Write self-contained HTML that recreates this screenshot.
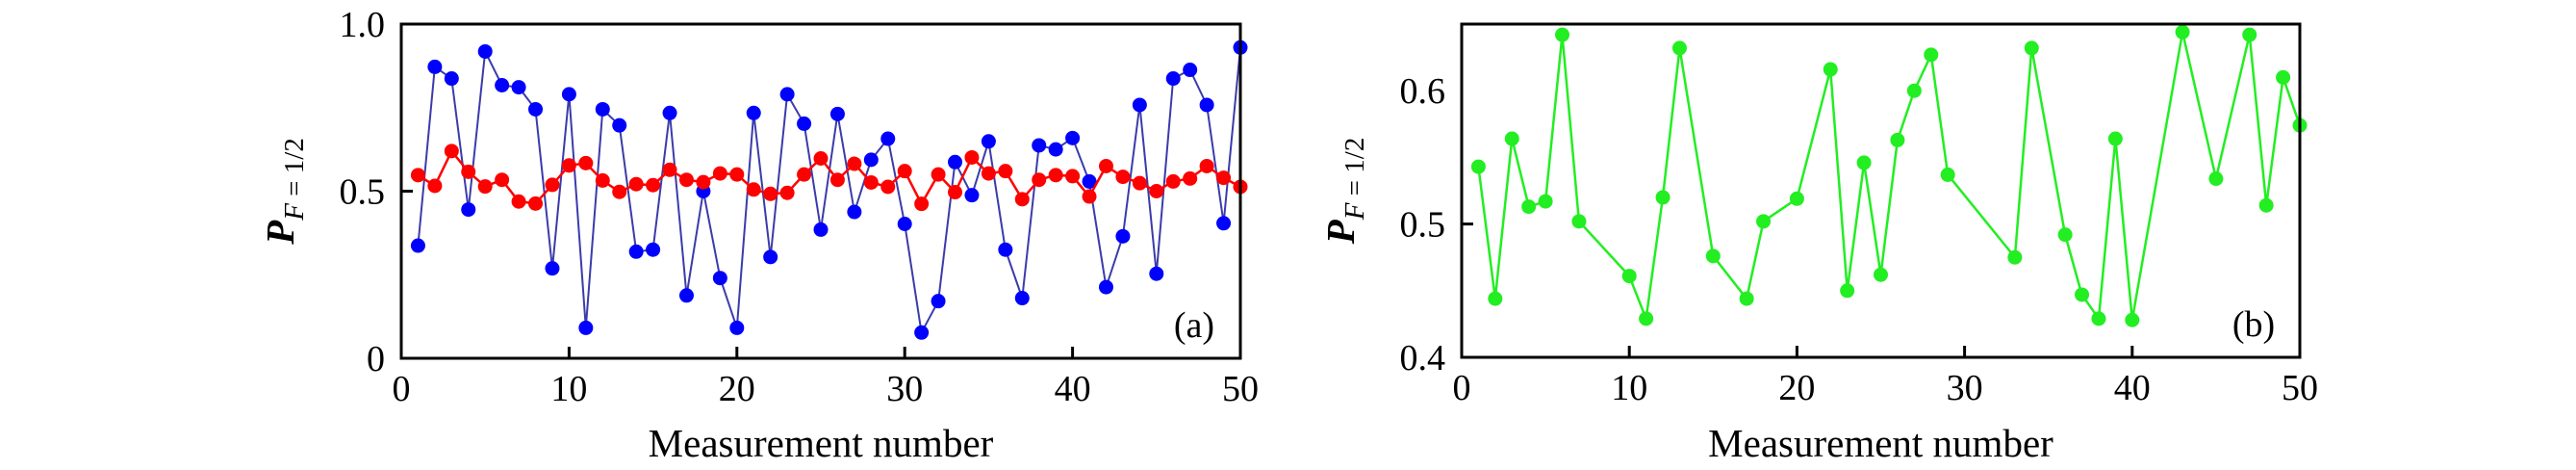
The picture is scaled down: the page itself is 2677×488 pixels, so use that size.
<!DOCTYPE html>
<html><head><meta charset="utf-8"><style>
html,body{margin:0;padding:0;background:#fff;}
svg{display:block;font-family:"Liberation Serif",serif;}
</style></head><body>
<svg id="fig" width="2677" height="488" viewBox="0 0 2677 488" xmlns="http://www.w3.org/2000/svg"></svg>
<script>
const xTicks = [0,10,20,30,40,50];
const yTicksA = [0,0.5,1.0];
const yTickLabelsA = ["0","0.5","1.0"];
const yTicksB = [0.4,0.5,0.6];
const yTickLabelsB = ["0.4","0.5","0.6"];
const blueX = Array.from({length:50},(_,i)=>i+1);
const blueY = [.337,.872,.837,.445,.918,.817,.811,.745,.269,.790,.091,.745,.697,.319,.325,.734,.188,.500,.240,.091,.734,.303,.790,.702,.385,.731,.438,.594,.657,.402,.077,.171,.587,.488,.649,.325,.180,.637,.625,.659,.529,.213,.365,.758,.253,.837,.863,.758,.404,.930];
const redX = Array.from({length:50},(_,i)=>i+1);
const redY = [.548,.516,.620,.558,.514,.534,.469,.463,.519,.577,.584,.532,.498,.521,.518,.564,.534,.527,.553,.550,.505,.492,.495,.550,.598,.534,.582,.526,.513,.560,.462,.550,.497,.601,.553,.560,.476,.534,.548,.545,.484,.575,.543,.524,.500,.529,.538,.575,.540,.513];
const greenX = [1,2,3,4,5,6,7,10,11,12,13,15,17,18,20,22,23,24,25,26,27,28,29,33,34,36,37,38,39,40,43,45,47,48,49,50];
const greenY = [.543,.444,.564,.513,.517,.642,.502,.461,.429,.520,.632,.476,.444,.502,.519,.616,.450,.546,.462,.563,.600,.627,.537,.475,.632,.492,.447,.429,.564,.428,.644,.534,.642,.514,.610,.574];

const NS="http://www.w3.org/2000/svg";
const svg=document.getElementById('fig');
function mk(tag,attrs,parent){const e=document.createElementNS(NS,tag);for(const k in attrs)e.setAttribute(k,attrs[k]);(parent||svg).appendChild(e);return e;}

function panel(p){
  const g=mk('g',{});
  
  
  const sx=v=>p.l+(v-0)/(50-0)*(p.r-p.l);
  const sy=v=>p.b-(v-p.y0)/(p.y1-p.y0)*(p.b-p.t);
  p.series.forEach(s=>{
    const pts=s.x.map((x,i)=>sx(x).toFixed(1)+','+sy(s.y[i]).toFixed(1)).join(' ');
    const pl=mk('polyline',{points:pts,fill:'none',stroke:s.line,'stroke-width':s.lw},g);
    
    
    s.x.forEach((x,i)=>{
      const c=mk('circle',{cx:sx(x),cy:sy(s.y[i]),r:7.5,fill:s.fill},g);
      
      
    });
  });
  const fr=mk('rect',{x:p.l,y:p.t,width:p.r-p.l,height:p.b-p.t,fill:'none',stroke:'#000','stroke-width':3},g);
  
  
  xTicks.forEach(v=>{
    const X=sx(v);
    if(v>0&&v<50){mk('line',{x1:X,x2:X,y1:p.b,y2:p.b-12,stroke:'#000','stroke-width':3},g);}
    const t=mk('text',{x:X,y:p.b+44,'text-anchor':'middle','font-size':38},g);
    t.textContent=v;
    
    
  });
  p.yt.forEach((v,i)=>{
    const Y=sy(v);
    if(i>0&&i<p.yt.length-1){mk('line',{x1:p.l,x2:p.l+12,y1:Y,y2:Y,stroke:'#000','stroke-width':3},g);}
    const t=mk('text',{x:p.l-17,y:Y+13,'text-anchor':'end','font-size':38},g);
    t.textContent=p.yl[i];
    
    
  });
  const xt=mk('text',{x:(p.l+p.r)/2,y:474,'text-anchor':'middle','font-size':41},g);
  xt.textContent='Measurement number';
  
  
  const yt=mk('text',{x:0,y:0,transform:`translate(${p.l-112},${(p.t+p.b)/2}) rotate(-90)`,'text-anchor':'middle','font-size':41},g);
  yt.innerHTML='<tspan font-style="italic" font-weight="bold">P</tspan><tspan font-size="29" dy="10"><tspan font-style="italic">F</tspan> = 1/2</tspan>';
  
  
  const pl=mk('text',{x:p.r-48,y:p.b-22,'text-anchor':'middle','font-size':38},g);
  pl.textContent=p.label;
  
  
}
panel({name:'panel-a',l:417,r:1289,t:25,b:372,y0:0,y1:1,yt:yTicksA,yl:yTickLabelsA,label:'(a)',
  series:[{name:'blue-series',x:blueX,y:blueY,line:'#3b3bab',lw:2,fill:'#0000ff'},
          {name:'red-series',x:redX,y:redY,line:'#ff0000',lw:2.5,fill:'#ff0000'}]});
panel({name:'panel-b',l:1519,r:2390,t:25,b:371,y0:0.4,y1:0.65,yt:yTicksB,yl:yTickLabelsB,label:'(b)',
  series:[{name:'green-series',x:greenX,y:greenY,line:'#22ee22',lw:2.5,fill:'#22ee22'}]});
</script>
</body></html>
